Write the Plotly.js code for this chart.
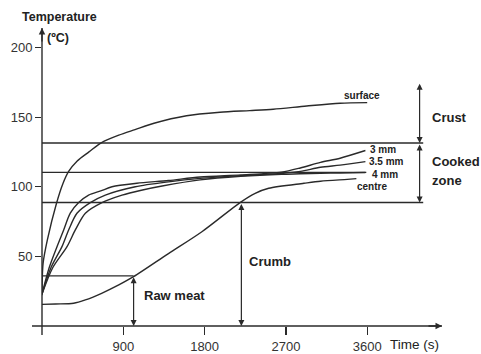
<!DOCTYPE html>
<html>
<head>
<meta charset="utf-8">
<script src="https://cdn.plot.ly/plotly-3.0.1.min.js"></script>
<style>html,body{margin:0;padding:0;background:#fff;}#chart{width:481px;height:354px;}</style>
</head>
<body>
<div id="chart"></div>
<script>
// ---- data (time in s, temperature in °C) ----
var surfaceT = [0, 12, 60, 160, 230, 295, 390, 520, 660, 850, 1030, 1240, 1600, 1970, 2300, 2560, 2930, 3300, 3600];
var surfaceY = [22, 45, 62, 88, 102, 111, 118.5, 125, 131.7, 137, 141, 145.6, 151, 153.5, 154.7, 155.7, 158, 160, 160.4];

var mm3T = [0, 80, 166, 240, 313, 406, 516, 650, 775, 1050, 1400, 1750, 2200, 2650, 2860, 3083, 3300, 3580];
var mm3Y = [23, 42, 57, 69, 81, 88.6, 94, 97, 100, 102.5, 104.5, 107, 108.5, 110.5, 113.5, 117.5, 120.5, 126];

var mm35T = [0, 100, 221, 295, 387, 535, 701, 1033, 1400, 1750, 2200, 2650, 2860, 3083, 3300, 3580];
var mm35Y = [23, 42, 57, 69, 81, 88.6, 94, 100, 103.5, 106, 108, 109.5, 111, 114, 115.5, 118];

var mm4T = [0, 120, 277, 369, 480, 664, 886, 1100, 1330, 1750, 2200, 2650, 2860, 3083, 3300, 3580];
var mm4Y = [23, 42, 57, 69, 81, 88.6, 94, 97.5, 100.5, 104.9, 107.5, 109, 109.3, 109.7, 109.9, 110.2];

var centreT = [0, 150, 350, 480, 660, 850, 1014, 1400, 1770, 2200, 2360, 2510, 2900, 3083, 3380, 3480];
var centreY = [15.5, 15.8, 16.3, 18.7, 23.5, 29.5, 35.4, 52, 67.7, 89, 95.3, 98.9, 102.5, 104, 105.3, 105.8];

// zone boundaries (°C) and marker times (s)
var crustLimit = 131.4;
var cookedTop = 110.3;
var crumbLimit = 88.7;
var rawLimit = 36;
var rawTime = 1014;
var crumbTime = 2207;
var zoneArrowTime = 4180;
var zoneLineEnd = 4220;
var cookedTopEnd = 3590;
var crustTop = 175;

var xTicks = [900, 1800, 2700, 3600];
var yTicks = [50, 100, 150, 200];

var lineCol = '#2a2a2a';
var font = 'Liberation Sans, Arial, sans-serif';

function curve(x, y) {
  return {x: x, y: y, mode: 'lines', type: 'scatter', hoverinfo: 'skip',
          line: {color: lineCol, width: 1.4, shape: 'spline', smoothing: 0.8}};
}

var data = [
  curve(surfaceT, surfaceY),
  curve(mm3T, mm3Y),
  curve(mm35T, mm35Y),
  curve(mm4T, mm4Y),
  curve(centreT, centreY)
];

function hline(y, x1) {
  return {type: 'line', xref: 'x', yref: 'y', x0: 0, x1: x1, y0: y, y1: y,
          line: {color: lineCol, width: 1.4}};
}

var shapes = [
  hline(crustLimit, zoneLineEnd),
  hline(cookedTop, cookedTopEnd),
  hline(crumbLimit, zoneLineEnd),
  hline(rawLimit, rawTime),
  // axes
  {type: 'line', xref: 'paper', yref: 'paper', x0: -0.025, x1: 1, y0: 0, y1: 0, line: {color: lineCol, width: 1.4}},
  {type: 'line', xref: 'paper', yref: 'paper', x0: 0, x1: 0, y0: -0.03, y1: 1, line: {color: lineCol, width: 1.4}}
];

function dArrow(x, y0, y1) {
  return {x: x, y: y0, ax: x, ay: y1, xref: 'x', yref: 'y', axref: 'x', ayref: 'y',
          text: '', showarrow: true, arrowhead: 2, arrowside: 'end+start', arrowsize: 1,
          arrowwidth: 1.2, arrowcolor: lineCol};
}

function label(x, y, text, size, bold, anchor) {
  return {x: x, y: y, xref: 'x', yref: 'y', text: bold ? '<b>' + text + '</b>' : text,
          showarrow: false, xanchor: anchor || 'left', yanchor: 'middle',
          font: {family: font, size: size, color: '#222'}};
}

var annotations = [
  dArrow(rawTime, 0, rawLimit),
  dArrow(crumbTime, 0, crumbLimit),
  dArrow(zoneArrowTime, crustLimit, crustTop),
  dArrow(zoneArrowTime, crumbLimit, crustLimit),
  // axis arrowheads
  {x: 1, y: 0, xref: 'paper', yref: 'paper', ax: -15, ay: 0, text: '', showarrow: true,
   arrowhead: 2, arrowsize: 1, arrowwidth: 1.3, arrowcolor: lineCol},
  {x: 0, y: 1, xref: 'paper', yref: 'paper', ax: 0, ay: 15, text: '', showarrow: true,
   arrowhead: 2, arrowsize: 1, arrowwidth: 1.3, arrowcolor: lineCol},
  label(3546, 165.2, 'surface', 10, true, 'center'),
  label(3613, 126.4, '3 mm', 10, true),
  label(3597, 118, '3.5 mm', 10, true),
  label(3634, 109, '4 mm', 10, true),
  label(3651, 100, 'centre', 10, true, 'center'),
  label(4290, 150, 'Crust', 13, true),
  label(4290, 117.8, 'Cooked', 13, true),
  label(4290, 104.6, 'zone', 13, true),
  label(2270, 46, 'Crumb', 13, true),
  label(1110, 21.6, 'Raw meat', 13, true),
  {x: (59 - 42) / 400, y: (326 - 17) / 298, xref: 'paper', yref: 'paper', text: '<b>Temperature</b>',
   showarrow: false, xanchor: 'center', yanchor: 'middle', font: {family: font, size: 12.5, color: '#222'}},
  {x: (58 - 42) / 400, y: (326 - 38) / 298, xref: 'paper', yref: 'paper', text: '<b>(ºC)</b>',
   showarrow: false, xanchor: 'center', yanchor: 'middle', font: {family: font, size: 12.5, color: '#222'}},
  {x: (414 - 42) / 400, y: (326 - 344) / 298, xref: 'paper', yref: 'paper', text: 'Time (s)',
   showarrow: false, xanchor: 'center', yanchor: 'middle', font: {family: font, size: 13.5, color: '#222'}}
];

var layout = {
  width: 481, height: 354,
  margin: {l: 42, r: 39, t: 28, b: 28, pad: 0},
  paper_bgcolor: '#fff', plot_bgcolor: '#fff',
  showlegend: false,
  xaxis: {range: [0, 4428], tickvals: xTicks, ticktext: xTicks.map(String), ticks: 'outside',
          ticklen: 8, tickwidth: 1.2, tickcolor: lineCol, showgrid: false, zeroline: false,
          showline: false, tickfont: {family: font, size: 13, color: '#333'}, fixedrange: true},
  yaxis: {range: [0, 214], tickvals: yTicks, ticktext: yTicks.map(String), ticks: 'outside',
          ticklen: 6, tickwidth: 1.2, tickcolor: lineCol, showgrid: false, zeroline: false,
          showline: false, tickfont: {family: font, size: 13, color: '#333'}, fixedrange: true},
  shapes: shapes,
  annotations: annotations
};

Plotly.newPlot('chart', data, layout, {staticPlot: true});
</script>
</body>
</html>
